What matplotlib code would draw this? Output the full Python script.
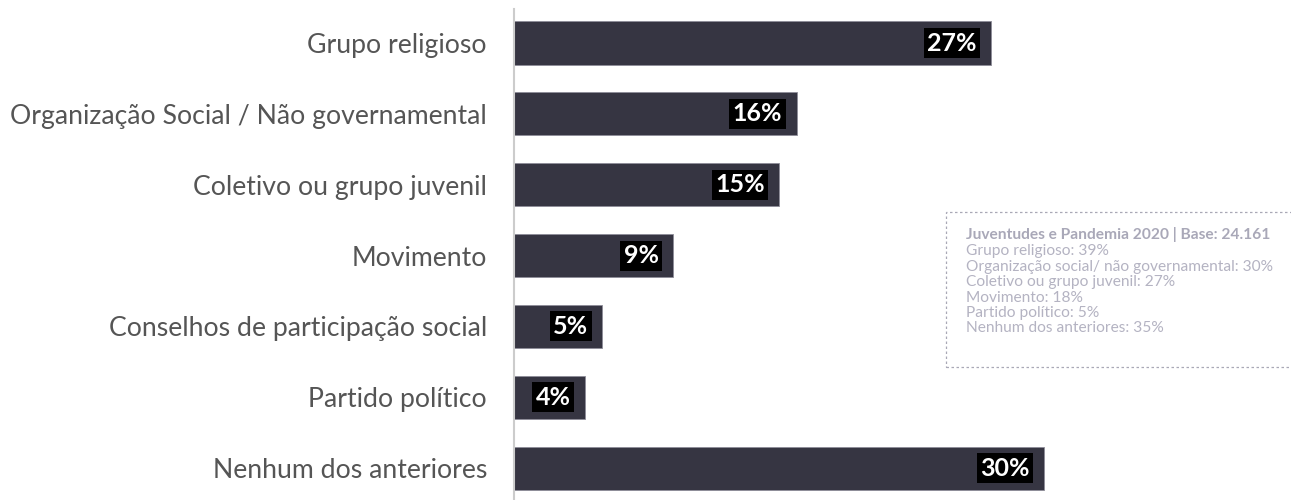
import matplotlib.pyplot as plt

# dados
categorias = ['Grupo religioso', 'Organização Social / Não governamental',
              'Coletivo ou grupo juvenil', 'Movimento',
              'Conselhos de participação social', 'Partido político',
              'Nenhum dos anteriores']
valores = [27, 16, 15, 9, 5, 4, 30]

nota_titulo = 'Juventudes e Pandemia 2020 | Base: 24.161'
nota_linhas = ['Grupo religioso: 39%',
               'Organização social/ não governamental: 30%',
               'Coletivo ou grupo juvenil: 27%',
               'Movimento: 18%',
               'Partido político: 5%',
               'Nenhum dos anteriores: 35%']

plt.rcParams['font.family'] = ['Lato', 'DejaVu Sans']

W, H = 1291, 500
fig = plt.figure(figsize=(W / 100, H / 100), dpi=100)
ax = fig.add_axes([514 / W, 0, (W - 514) / W, 491 / H])

y = list(range(len(categorias)))
ax.barh(y, valores, height=0.61, color='#363542', edgecolor='#8e8d98',
        linewidth=0.6)
ax.set_xlim(0, 44)
ax.set_ylim(6.45, -0.48)

for i, v in enumerate(valores):
    ax.text(v - 0.8, i, f'{v}%', ha='right', va='center', color='white',
            fontsize=18, fontweight='bold',
            bbox=dict(facecolor='black', edgecolor='none', pad=2.5))

ax.set_yticks(y)
ax.set_yticklabels(categorias, fontsize=19.2, color='#555555')
ax.tick_params(axis='y', length=0, pad=19.5)
ax.set_xticks([])
for s in ['top', 'right', 'bottom']:
    ax.spines[s].set_visible(False)
ax.spines['left'].set_color('#cccccc')
ax.spines['left'].set_linewidth(1.5)

# caixa de nota
caixa = plt.Rectangle((946 / W, 1 - 367 / H), (W + 10 - 946) / W, 155 / H,
                      transform=fig.transFigure, fill=False,
                      edgecolor='#a9a8b6', linestyle=(0, (2, 2)),
                      linewidth=0.9)
fig.add_artist(caixa)
fig.text(966 / W, 1 - 235 / H, nota_titulo, fontsize=11.2, fontweight='bold',
         color='#a9a8b8', va='center')
for k, linha in enumerate(nota_linhas):
    fig.text(966 / W, 1 - (251 + 15.5 * k) / H, linha, fontsize=11.2,
             color='#b4b3c2', va='center')

fig.savefig('out.png', dpi=100)
